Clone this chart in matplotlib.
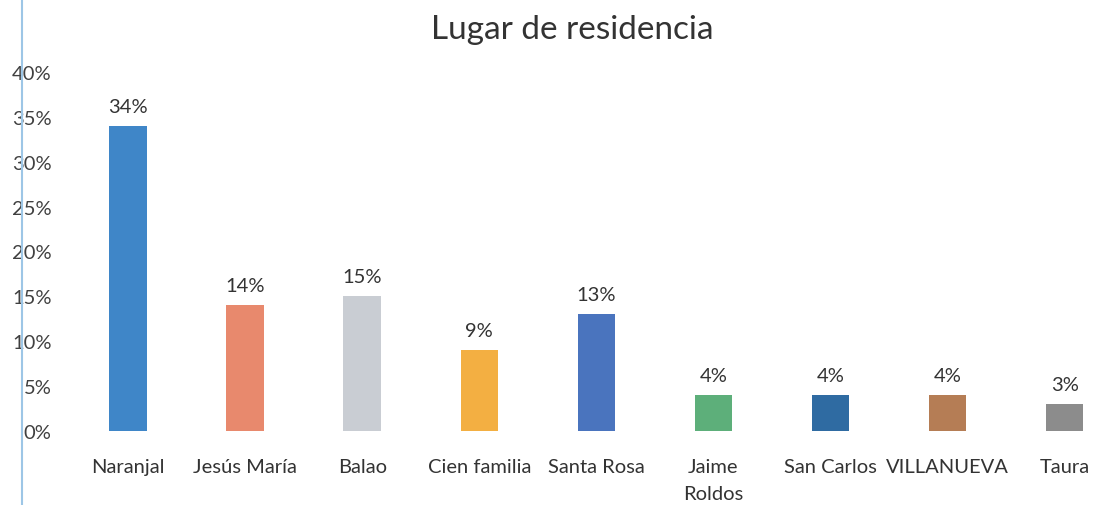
import matplotlib
matplotlib.use('Agg')
import matplotlib.pyplot as plt
from matplotlib.lines import Line2D

plt.rcParams['font.family'] = ['Lato', 'DejaVu Sans']

lugares = ['Naranjal', 'Jesús María', 'Balao', 'Cien familia', 'Santa Rosa',
           'Jaime\nRoldos', 'San Carlos', 'VILLANUEVA', 'Taura']
porcentajes = [34, 14, 15, 9, 13, 4, 4, 4, 3]
colores = ['#3F86C8', '#E8896D', '#C9CDD3', '#F3AF42', '#4A74BE',
           '#5DAF7A', '#2F6BA2', '#B57D55', '#8C8C8C']

fig = plt.figure(figsize=(10.95, 5.06), dpi=100)
ax = fig.add_axes([0.0635, 0.146, 0.9365, 0.71])

x = range(len(lugares))
ax.bar(x, [p / 100 for p in porcentajes], width=0.32, color=colores)

# etiquetas de valor encima de cada barra
for i, p in enumerate(porcentajes):
    ax.annotate(f'{p}%', (i, p / 100), xytext=(0, 8), textcoords='offset points',
                ha='center', va='bottom', fontsize=14.5, color='#333333')

ax.set_xlim(-0.5, 8.26)
ax.set_ylim(0, 0.40)
ax.set_yticks([i / 100 for i in range(0, 41, 5)])
ax.set_yticklabels([f'{i}%' for i in range(0, 41, 5)])
ax.set_xticks(list(x))
ax.set_xticklabels(lugares, linespacing=1.75)
ax.tick_params(axis='y', length=0, pad=13, labelsize=14.5, labelcolor='#404040')
ax.tick_params(axis='x', length=0, pad=19, labelsize=14.5, labelcolor='#333333')
for s in ax.spines.values():
    s.set_visible(False)

fig.text(0.523, 0.94, 'Lugar de residencia', ha='center', va='center',
         fontsize=24, color='#333333')

# línea vertical azul del margen izquierdo
fig.add_artist(Line2D([0.02, 0.02], [0, 1], color='#9DC6E6', lw=1.5))

fig.savefig('out.png', dpi=100, facecolor='white')
